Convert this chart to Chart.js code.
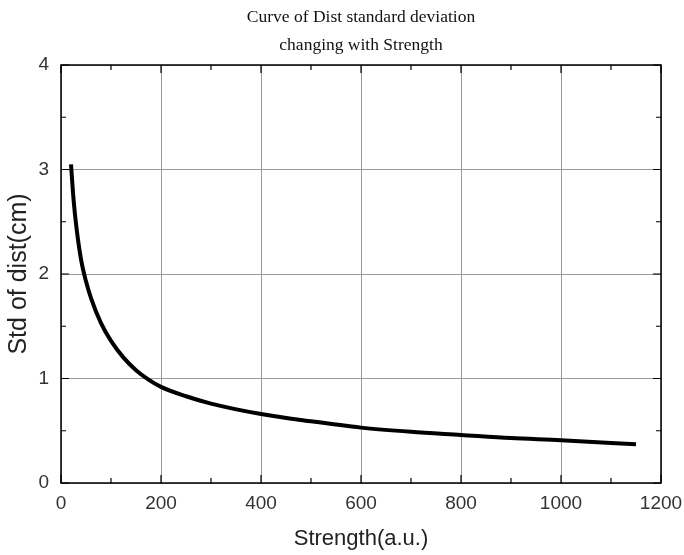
<!DOCTYPE html>
<html>
<head>
<meta charset="utf-8">
<script src="https://cdn.jsdelivr.net/npm/chart.js@4.4.1/dist/chart.umd.min.js"></script>
<style>
  body { margin: 0; background: #fff; }
</style>
</head>
<body>
<canvas id="grafica" width="684" height="555"></canvas>
<script>
// Datos
const strength = [20, 25, 30, 40, 50, 60, 80, 100, 125, 150, 175, 200, 250, 300, 400, 500, 600, 700, 800, 900, 1000, 1150];
const stdDist = [3.05, 2.72, 2.48, 2.14, 1.93, 1.77, 1.53, 1.36, 1.20, 1.08, 0.99, 0.92, 0.83, 0.76, 0.66, 0.59, 0.53, 0.49, 0.46, 0.43, 0.41, 0.37];
const xTicks = [0, 200, 400, 600, 800, 1000, 1200];
const yTicks = [0, 1, 2, 3, 4];

const puntos = strength.map((x, i) => ({ x: x, y: stdDist[i] }));

// Marco negro y marcas hacia adentro
const marco = {
    id: 'marco',
    afterDraw(chart) {
        const { ctx, chartArea: a, scales } = chart;
        ctx.save();
        ctx.strokeStyle = '#000';
        ctx.lineWidth = 1.5;
        ctx.strokeRect(a.left, a.top, a.right - a.left, a.bottom - a.top);
        ctx.lineWidth = 1.2;
        for (let v = 0; v <= 1200; v += 100) {
            const px = scales.x.getPixelForValue(v);
            const len = v % 200 === 0 ? 8 : 5;
            ctx.beginPath();
            ctx.moveTo(px, a.bottom); ctx.lineTo(px, a.bottom - len);
            ctx.moveTo(px, a.top); ctx.lineTo(px, a.top + len);
            ctx.stroke();
        }
        for (let v = 0; v <= 4; v += 0.5) {
            const py = scales.y.getPixelForValue(v);
            const len = v % 1 === 0 ? 8 : 5;
            ctx.beginPath();
            ctx.moveTo(a.left, py); ctx.lineTo(a.left + len, py);
            ctx.moveTo(a.right, py); ctx.lineTo(a.right - len, py);
            ctx.stroke();
        }
        ctx.restore();
    }
};

new Chart(document.getElementById('grafica'), {
    type: 'scatter',
    data: {
        datasets: [
            {
                data: puntos,
                showLine: true,
                borderColor: '#000',
                borderWidth: 4,
                pointRadius: 0,
                cubicInterpolationMode: 'monotone',
            }
        ]
    },
    options: {
        responsive: false,
        animation: false,
        layout: {
            padding: { left: 0, right: 23, top: 0, bottom: 0 }
        },
        plugins: {
            legend: { display: false },
            tooltip: { enabled: false }
        },
        scales: {
            x: {
                type: 'linear',
                min: 0,
                max: 1200,
                afterBuildTicks: (scale) => { scale.ticks = xTicks.map(v => ({ value: v })); },
                afterFit: (scale) => {
                    scale.height = 72;
                    scale.paddingLeft = 0;
                    scale.paddingRight = 0;
                },
                grid: { color: '#999', lineWidth: 1, drawTicks: false },
                border: { display: false },
                ticks: {
                    color: '#333',
                    padding: 9,
                    callback: (v) => String(v),
                    font: { family: "'Liberation Sans', Arial", size: 19 }
                },
                title: {
                    display: true,
                    text: 'Strength(a.u.)',
                    color: '#222',
                    padding: { top: 0, bottom: 3 },
                    font: { family: "'Liberation Sans', Arial", size: 22 }
                }
            },
            // Eje superior solo para el titulo centrado sobre el area
            xTop: {
                type: 'linear',
                position: 'top',
                min: 0,
                max: 1200,
                afterFit: (scale) => {
                    scale.height = 65;
                    scale.paddingLeft = 0;
                    scale.paddingRight = 0;
                },
                grid: { display: false },
                border: { display: false },
                ticks: { display: false },
                title: {
                    display: true,
                    text: ['Curve of Dist standard deviation', 'changing with Strength'],
                    color: '#111',
                    padding: { top: 3, bottom: 0 },
                    font: { family: "'Liberation Serif', serif", size: 17.5, lineHeight: 1.6 }
                }
            },
            y: {
                type: 'linear',
                min: 0,
                max: 4,
                afterBuildTicks: (scale) => { scale.ticks = yTicks.map(v => ({ value: v })); },
                afterFit: (scale) => { scale.width = 61; },
                grid: { color: '#999', lineWidth: 1, drawTicks: false },
                border: { display: false },
                ticks: {
                    color: '#333',
                    padding: 12,
                    callback: (v) => String(v),
                    font: { family: "'Liberation Sans', Arial", size: 19 }
                },
                title: {
                    display: true,
                    text: 'Std of dist(cm)',
                    color: '#222',
                    padding: { top: 4, bottom: 0 },
                    font: { family: "'Liberation Sans', Arial", size: 25 }
                }
            }
        }
    },
    plugins: [marco]
});
</script>
</body>
</html>
